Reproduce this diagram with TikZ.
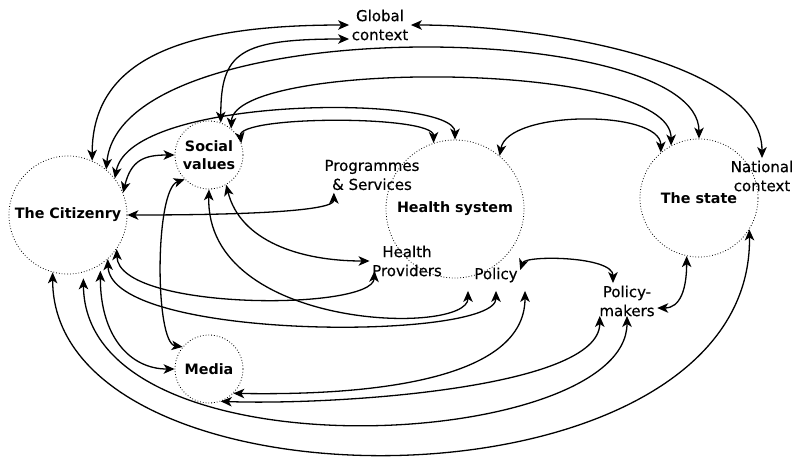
\documentclass[tikz,border=0pt]{standalone}
\usepackage{fontspec}
\setmainfont{DejaVu Sans}
\newfontfamily\lblfont[FakeBold=0.4]{DejaVu Sans}
\usetikzlibrary{arrows.meta}

\begin{document}
\begin{tikzpicture}[x=1pt,y=1pt,<->,>={Stealth[length=11pt,width=9.5pt,inset=3pt]},
                    line width=1.3pt]
\tikzstyle{blob}=[circle,draw,dotted,line width=0.8pt,inner sep=0pt,align=center,
                  font=\fontsize{14.3pt}{18pt}\selectfont\bfseries]
\tikzstyle{lbl}=[inner sep=2pt,align=center,font=\fontsize{15pt}{19pt}\lblfont]

\useasboundingbox (0,-456) rectangle (795,0);

        \node[blob,minimum size=118pt]      (cit)       at (68,-215)   {\raisebox{-3pt}{The Citizenry}};
        \node[blob,minimum size=68pt]       (social)    at (209,-155)  {Social\\values};
        \node[blob,minimum size=138pt]      (health)    at (455,-209)  {\raisebox{-3pt}{Health system}};
        \node[blob,minimum size=118pt]      (state)     at (699,-198)  {The state};
        \node[blob,minimum size=68pt]       (media)     at (209,-369)  {Media};

        \node[lbl]      (global)     at (380,-25)   {Global\\context};
        \node[lbl]      (national)   at (762,-176)  {National\\context};
        \node[lbl]      (progs)      at (372,-175)  {Programmes\\\& Services};
        \node[lbl]      (providers)  at (407,-261)  {Health\\Providers};
        \node[lbl]      (policy)     at (496,-275)  {Policy};
        \node[lbl]      (makers)     at (627,-301)  {Policy-\\makers};

        % upper arcs
        \draw (cit.66) .. controls +(0,105) and +(-160,0) .. (global.west);
        \draw (social.70) .. controls +(0,70) and +(-110,0) .. ([yshift=-14pt]global.west);
        \draw (global.east) .. controls +(130,0) and +(0,97) .. (national.north);
        \draw (cit.50) .. controls +(15,160) and +(0,120) .. (state.north);
        \draw (social.50) .. controls +(3,69) and +(0,86) .. (state.118);
        \draw (cit.38) .. controls +(16,84) and +(0,45) .. (health.north);
        \draw (social.20) .. controls +(-4,28) and +(0,28) .. (health.108);
        \draw (health.50) .. controls +(8,46) and +(0,43) .. (state.130);
        \draw (cit.22) .. controls +(8,33) and +(-30,0) .. (social.west);

        % middle
        \draw (cit.east) .. controls +(124,0) and +(0,-18) .. ([xshift=12pt]progs.south west);
        \draw (social.225) .. controls +(-30,-10) and +(-28,4) .. (media.140);
        \draw (social.south) .. controls +(-4,-141) and +(0,-45) .. ([xshift=-28pt,yshift=-6pt]policy.south);
        \draw (social.300) .. controls +(14,-56) and +(-70,0) .. (providers.west);
        \draw (cit.325) .. controls +(2,-62) and +(-2,-40) .. ([xshift=5pt,yshift=8pt]providers.south west);
        \draw (cit.312) .. controls +(3,-82) and +(0,-50) .. ([yshift=-6pt]policy.south);

        % lower arcs
        \draw (media.315) .. controls +(115,-2) and +(0,-95) .. ([xshift=29pt,yshift=-6pt]policy.south);
        \draw (media.290) .. controls +(110,-4) and +(0,-73) .. ([xshift=3pt,yshift=3pt]makers.south west);
        \draw ([yshift=-6pt]cit.303) .. controls +(0,-65) and +(-45,0) .. (media.west);
        \draw ([yshift=-6pt]cit.285) .. controls +(2,-203) and +(0,-135) .. ([yshift=3pt]makers.south);
        \draw (cit.255) .. controls +(0,-249) and +(4,-291) .. (state.328);
        \draw ([yshift=5pt]policy.east) .. controls +(5,15) and +(0,27) .. ([xshift=-14pt]makers.north);
        \draw ([yshift=-7pt]makers.east) .. controls +(23,0) and +(0,-33) .. (state.258);
        %end arcs

\end{tikzpicture}
\end{document}
